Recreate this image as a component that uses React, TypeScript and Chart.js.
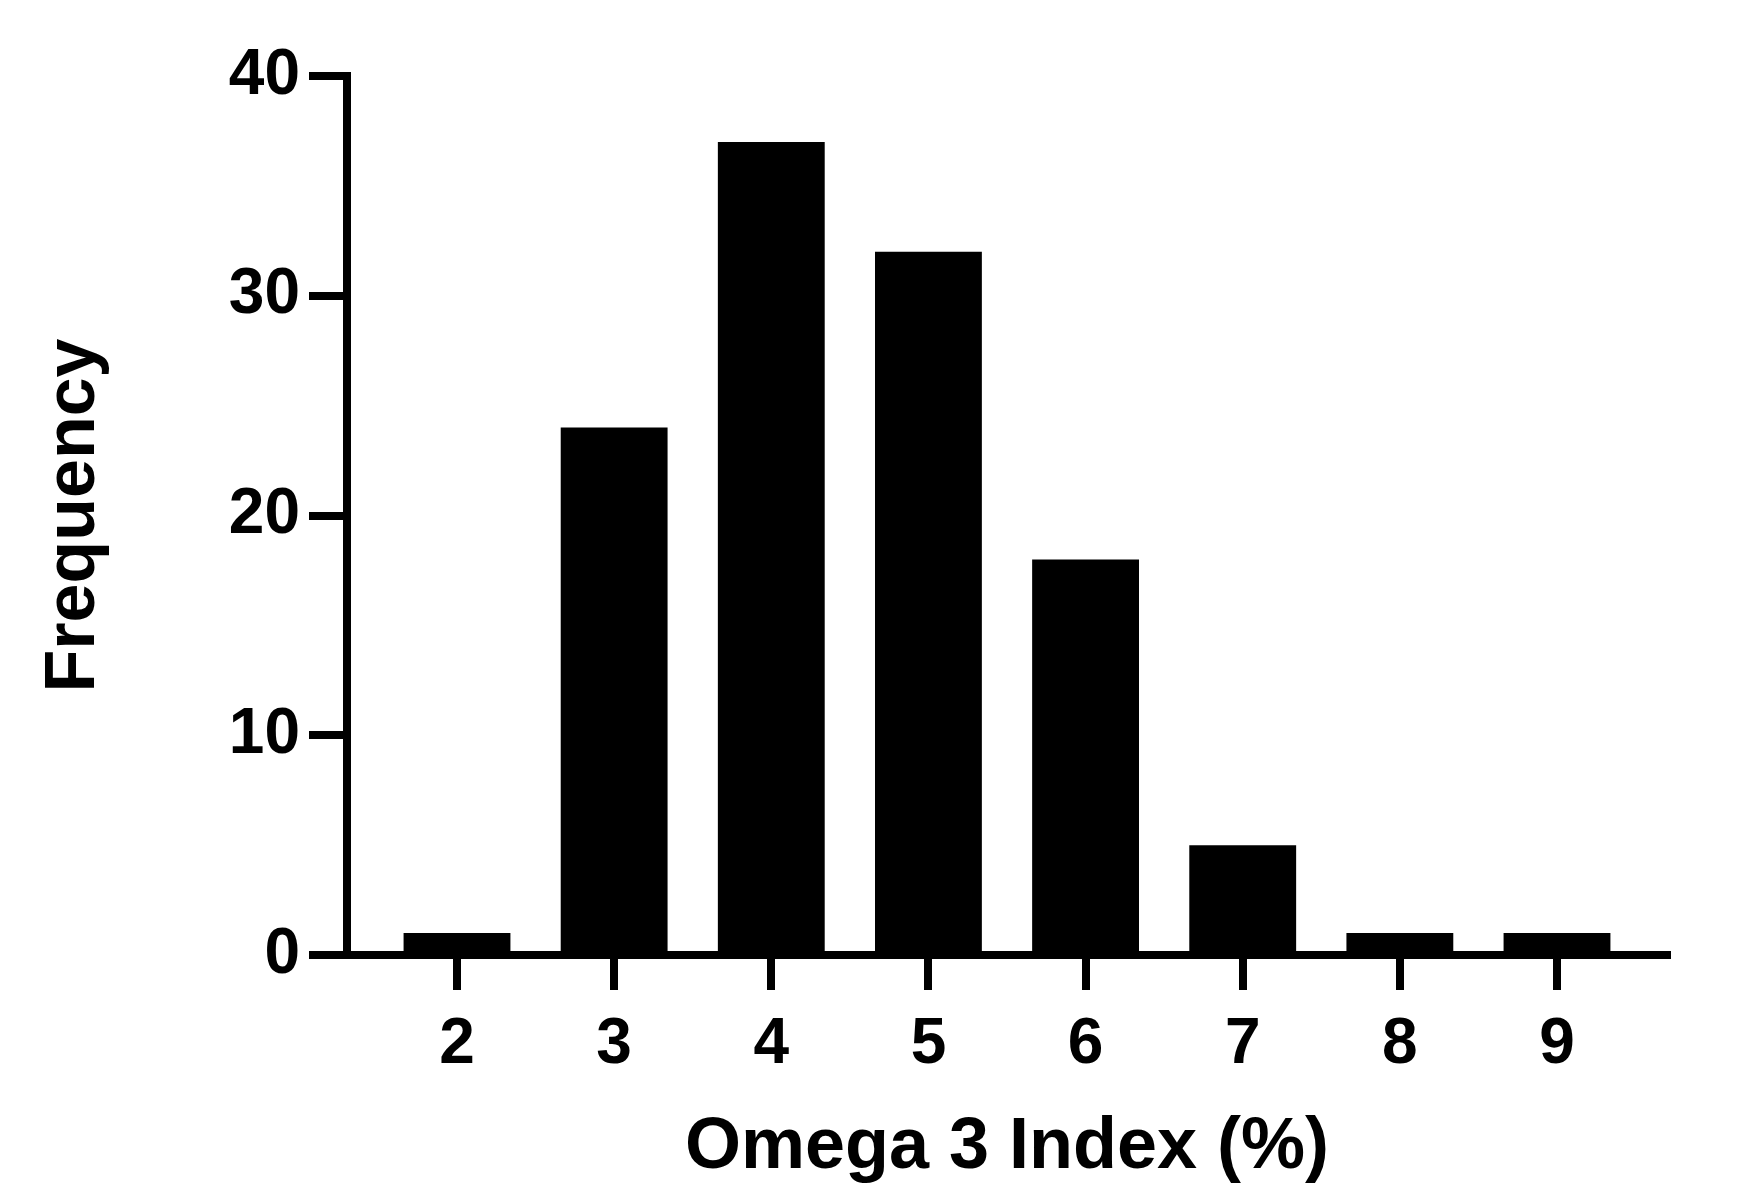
import React, { useEffect, useRef } from "react";
import { Chart, registerables } from "chart.js";

Chart.register(...registerables);

const binCenters = [2, 3, 4, 5, 6, 7, 8, 9];
const frequencies = [1, 24, 37, 32, 18, 5, 1, 1];
const yTickValues = [0, 10, 20, 30, 40];
const xTitle = "Omega 3 Index (%)";
const yTitle = "Frequency";

const FONT = "'Liberation Sans', Arial, Helvetica, sans-serif";

export default function App() {
  const ref = useRef<HTMLCanvasElement | null>(null);

  useEffect(() => {
    if (!ref.current) return;
    const chart = new Chart(ref.current, {
      type: "bar",
      data: {
        datasets: [
          {
            data: binCenters.map((x, i) => ({ x, y: frequencies[i] })),
            backgroundColor: "#000000",
            borderWidth: 0,
            barPercentage: 0.68,
            categoryPercentage: 1,
          },
        ],
      },
      options: {
        responsive: false,
        animation: false,
        devicePixelRatio: 1,
        layout: { padding: { top: 76, right: 81, left: 0, bottom: 0 } },
        plugins: { legend: { display: false }, tooltip: { enabled: false } },
        scales: {
          x: {
            type: "linear",
            min: 1.3,
            max: 9.7,
            offset: false,
            afterBuildTicks: (scale: any) => {
              scale.ticks = binCenters.map((v) => ({ value: v }));
            },
            afterFit: (scale: any) => {
              scale.height = 229;
            },
            ticks: {
              includeBounds: false,
              color: "#000",
              padding: 17,
              font: { family: FONT, size: 64, weight: "bold" },
              maxRotation: 0,
              autoSkip: false,
            },
            grid: {
              offset: false,
              drawOnChartArea: false,
              drawTicks: true,
              tickLength: 35,
              tickWidth: 8,
              tickColor: "#000",
              lineWidth: 8,
              color: "#000",
            },
            border: { display: true, width: 8, color: "#000" },
            title: {
              display: true,
              text: xTitle,
              color: "#000",
              font: { family: FONT, size: 72, weight: "bold", lineHeight: 1 },
              padding: { top: 0, bottom: 0 },
            },
          },
          y: {
            type: "linear",
            min: 0,
            max: 40,
            afterBuildTicks: (scale: any) => {
              scale.ticks = yTickValues.map((v) => ({ value: v }));
            },
            afterFit: (scale: any) => {
              scale.width = 347;
            },
            ticks: {
              color: "#000",
              padding: 9,
              font: { family: FONT, size: 64, weight: "bold" },
            },
            grid: {
              drawOnChartArea: false,
              drawTicks: true,
              tickLength: 38,
              tickWidth: 8,
              tickColor: "#000",
              lineWidth: 8,
              color: "#000",
            },
            border: { display: true, width: 8, color: "#000" },
            title: {
              display: true,
              text: yTitle,
              color: "#000",
              font: { family: FONT, size: 70, weight: "bold", lineHeight: 1 },
              padding: { top: 40, bottom: 0 },
            },
          },
        },
      },
    });
    return () => chart.destroy();
  }, []);

  return (
    <div style={{ position: "absolute", left: 0, top: 0, width: 1748, height: 1184, background: "#fff" }}>
      <canvas ref={ref} width={1748} height={1184} style={{ display: "block" }} />
    </div>
  );
}
